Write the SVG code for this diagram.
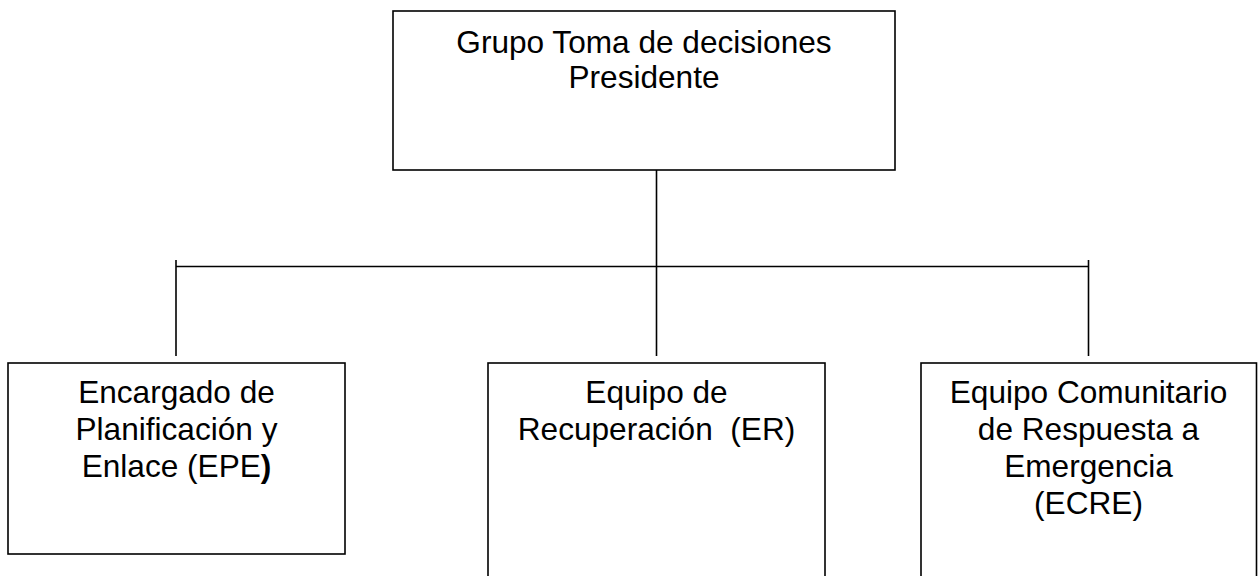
<svg xmlns="http://www.w3.org/2000/svg" width="1258" height="576" viewBox="0 0 1258 576">
<style>
.box{fill:#fff;stroke:#000;stroke-width:1.6}
.ln{stroke:#000;stroke-width:1.6;fill:none}
.t{font-family:"Liberation Sans",Arial,sans-serif;font-size:31.6px;fill:#000;text-anchor:middle;white-space:pre}
</style>
<rect width="1258" height="576" fill="#fff"/>
<g id="connectors">
<line class="ln" x1="656.5" y1="164" x2="656.5" y2="356"/>
<line class="ln" x1="176" y1="266.5" x2="1088.5" y2="266.5"/>
<line class="ln" x1="176" y1="260" x2="176" y2="356"/>
<line class="ln" x1="1088.5" y1="260" x2="1088.5" y2="356"/>
</g>
<g id="node-presidente">
<rect class="box" x="393" y="11" width="502" height="159"/>
<text class="t" x="644" y="53">Grupo Toma de decisiones</text>
<text class="t" x="644" y="88">Presidente</text>
</g>
<g id="node-epe">
<rect class="box" x="8" y="363" width="337" height="191"/>
<text class="t" x="176.5" y="403">Encargado de</text>
<text class="t" x="176.5" y="440">Planificación y</text>
<text class="t" x="176.5" y="477">Enlace (EPE<tspan font-weight="bold">)</tspan></text>
</g>
<g id="node-er">
<rect class="box" x="488" y="363" width="337" height="220"/>
<text class="t" x="656.5" y="403">Equipo de</text>
<text class="t" x="656.5" y="440" xml:space="preserve">Recuperación  (ER)</text>
</g>
<g id="node-ecre">
<rect class="box" x="921" y="363" width="335.5" height="220"/>
<text class="t" x="1088.5" y="403">Equipo Comunitario</text>
<text class="t" x="1088.5" y="440">de Respuesta a</text>
<text class="t" x="1088.5" y="477">Emergencia</text>
<text class="t" x="1088.5" y="514">(ECRE)</text>
</g>
</svg>
